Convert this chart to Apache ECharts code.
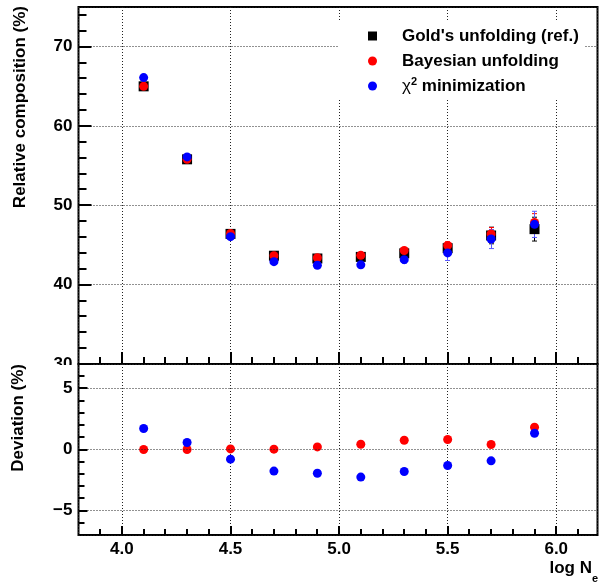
<!DOCTYPE html>
<html>
<head>
<meta charset="utf-8">
<script src="https://cdn.jsdelivr.net/npm/echarts@6/dist/echarts.min.js"></script>
<style>
  html, body { margin: 0; padding: 0; background: #fff; }
  #chart { width: 599px; height: 583px; }
</style>
</head>
<body>
<div id="chart"></div>
<script>
// Bin centres in log10(Ne)
const logNe = [4.1, 4.3, 4.5, 4.7, 4.9, 5.1, 5.3, 5.5, 5.7, 5.9];

// Relative composition (%) for each unfolding method
const goldValues  = [65.0, 55.8, 46.4, 43.65, 43.3, 43.5, 43.95, 44.6, 46.2, 47.0];
const goldErrors  = [0.2, 0.2, 0.2, 0.2, 0.25, 0.3, 0.35, 0.45, 1.05, 1.5];
const bayesValues = [65.0, 55.8, 46.45, 43.65, 43.4, 43.7, 44.3, 44.95, 46.4, 47.85];
const bayesErrors = [0.2, 0.2, 0.2, 0.2, 0.25, 0.3, 0.35, 0.45, 0.8, 1.1];
const chi2Values  = [66.1, 56.1, 46.05, 42.9, 42.45, 42.5, 43.15, 44.0, 45.75, 47.6];
const chi2Errors  = [0.2, 0.2, 0.2, 0.25, 0.3, 0.35, 0.45, 0.95, 1.2, 1.65];

// Deviation from Gold's unfolding (%)
const bayesDeviation = [0.0, 0.0, 0.05, 0.03, 0.21, 0.43, 0.76, 0.82, 0.41, 1.82];
const chi2Deviation  = [1.72, 0.57, -0.79, -1.77, -1.94, -2.26, -1.8, -1.31, -0.93, 1.33];

// Axis tick positions
const xMajorTicks = [4.0, 4.5, 5.0, 5.5, 6.0];
const xMinorTicks = [3.9, 4.1, 4.2, 4.3, 4.4, 4.6, 4.7, 4.8, 4.9, 5.1, 5.2, 5.3, 5.4, 5.6, 5.7, 5.8, 5.9, 6.1];
const compMajorTicks = [30, 40, 50, 60, 70];
const compMinorTicks = [32, 34, 36, 38, 42, 44, 46, 48, 52, 54, 56, 58, 62, 64, 66, 68, 72, 74];
const devMajorTicks = [-5, 0, 5];
const devMinorTicks = [-6, -4, -3, -2, -1, 1, 2, 3, 4, 6];

const seriesNames = ["Gold's unfolding (ref.)", 'Bayesian unfolding', 'chi2 minimization'];

const FONT = 'Liberation Sans';
const BLACK = '#000000';
const TICK = '#000000';
const RED = '#ff0000';
const BLUE = '#0000ff';
const BLUE_ERR = '#5a5aff';

const X_MIN = 3.8, X_MAX = 6.19;
const COMP_MIN = 30, COMP_MAX = 75;
const DEV_MIN = -7, DEV_MAX = 7;

function points(values, errors) {
  return logNe.map((x, i) => [x, values[i], errors ? errors[i] : 0]);
}

const crisp = v => Math.round(v - 0.5) + 0.5;

function errorBars(values, errors, color) {
  return {
    type: 'custom', xAxisIndex: 0, yAxisIndex: 0, silent: true,
    data: points(values, errors),
    encode: { x: 0, y: 1 },
    renderItem(params, api) {
      const x = api.value(0), y = api.value(1), e = api.value(2);
      const hi = api.coord([x, y + e]);
      const lo = api.coord([x, y - e]);
      const cx = crisp(hi[0]);
      const cap = 2.5;
      const st = { stroke: color, lineWidth: 1 };
      return {
        type: 'group',
        children: [
          { type: 'line', shape: { x1: cx, y1: hi[1], x2: cx, y2: lo[1] }, style: st },
          { type: 'line', shape: { x1: cx - cap, y1: hi[1], x2: cx + cap, y2: hi[1] }, style: st },
          { type: 'line', shape: { x1: cx - cap, y1: lo[1], x2: cx + cap, y2: lo[1] }, style: st }
        ]
      };
    }
  };
}

// Tick marks (major and minor) drawn inward from the bottom edge of a panel
function xTicks(axisIndex, majors, minors, yEdge, majorLen, minorLen) {
  return {
    type: 'custom', xAxisIndex: axisIndex, yAxisIndex: axisIndex, silent: true, z: 6,
    data: majors.concat(minors).map(v => [v, yEdge]),
    encode: { x: 0, y: 1 },
    renderItem(params, api) {
      const v = api.value(0);
      const len = majors.indexOf(v) >= 0 ? majorLen : minorLen;
      const p = api.coord([v, api.value(1)]);
      const x = Math.round(p[0]);
      return {
        type: 'rect',
        shape: { x: x - 1, y: p[1] - len, width: 2, height: len },
        style: { fill: TICK }
      };
    }
  };
}

// Tick marks (major and minor) drawn inward from the left edge of a panel
function yTicks(axisIndex, majors, minors, majorLen, minorLen) {
  return {
    type: 'custom', xAxisIndex: axisIndex, yAxisIndex: axisIndex, silent: true, z: 6,
    data: majors.concat(minors).map(v => [X_MIN, v]),
    encode: { x: 0, y: 1 },
    renderItem(params, api) {
      const v = api.value(1);
      const len = majors.indexOf(v) >= 0 ? majorLen : minorLen;
      const p = api.coord([api.value(0), v]);
      const y = Math.round(p[1]);
      return {
        type: 'rect',
        shape: { x: p[0], y: y - 1, width: len, height: 2 },
        style: { fill: TICK }
      };
    }
  };
}

const minus = v => String(v).replace('-', '\u2212');

const gridLine = { show: true, lineStyle: { color: '#222', width: 1, type: [1, 2] } };
const labelFont = { color: BLACK, fontFamily: FONT, fontWeight: 'bold', fontSize: 17 };

function xAxisFor(gridIndex, showLabels) {
  return {
    type: 'value', gridIndex, min: X_MIN, max: X_MAX, splitNumber: 5,
    axisLine: { show: false, onZero: false },
    axisTick: { show: false },
    splitLine: gridLine,
    axisLabel: Object.assign({
      show: showLabels, margin: 6, showMinLabel: false, showMaxLabel: false,
      formatter: v => v.toFixed(1)
    }, labelFont)
  };
}

const chart = echarts.init(document.getElementById('chart'), null, { renderer: 'canvas' });

const legendText = { fontFamily: FONT, fontSize: 17, fontWeight: 'bold', color: BLACK, lineHeight: 20 };

chart.setOption({
  backgroundColor: '#ffffff',
  animation: false,
  grid: [
    { left: 78.5, width: 519, top: 7, height: 357, show: true, borderColor: BLACK, borderWidth: 2 },
    { left: 78.5, width: 519, top: 364, height: 171, show: true, borderColor: BLACK, borderWidth: 2 }
  ],
  xAxis: [xAxisFor(0, false), xAxisFor(1, true)],
  yAxis: [
    {
      type: 'value', gridIndex: 0, min: COMP_MIN, max: COMP_MAX, splitNumber: 4, z: 0,
      axisLine: { show: false, onZero: false },
      axisTick: { show: false },
      splitLine: gridLine,
      axisLabel: Object.assign({ margin: 6, showMaxLabel: false, formatter: minus }, labelFont)
    },
    {
      type: 'value', gridIndex: 1, min: DEV_MIN, max: DEV_MAX, splitNumber: 3, z: 3,
      axisLine: { show: false, onZero: false },
      axisTick: { show: false },
      splitLine: gridLine,
      axisLabel: Object.assign({ margin: 6, showMinLabel: false, showMaxLabel: false, formatter: minus }, labelFont)
    }
  ],
  legend: {
    orient: 'vertical',
    left: 338, top: 21,
    padding: [5, 6, 3, 30],
    backgroundColor: '#ffffff',
    itemWidth: 9, itemHeight: 9,
    itemGap: 5,
    selectedMode: false,
    data: [
      { name: seriesNames[0], icon: 'rect' },
      { name: seriesNames[1], icon: 'circle' },
      { name: seriesNames[2], icon: 'circle' }
    ],
    formatter: name => name === seriesNames[2]
      ? '{chi|\u03c7}{sup|2}{b| minimization}'
      : '{first|' + name + '}',
    textStyle: Object.assign({
      rich: {
        first: Object.assign({ padding: [0, 0, 0, 20] }, legendText),
        chi: Object.assign({}, legendText, { fontWeight: 'normal', padding: [0, 0, 0, 20] }),
        sup: Object.assign({}, legendText, { fontSize: 11, padding: [0, 0, 8, 0] }),
        b: legendText
      }
    }, legendText)
  },
  graphic: [
    // covers the lower part of the clipped "30" label, like the overlapping lower pad
    { type: 'rect', z: 1, shape: { x: 0, y: 365, width: 77, height: 18 }, style: { fill: '#ffffff' } },
    {
      type: 'text', x: 20, y: 6, rotation: Math.PI / 2, z: 5,
      style: { text: 'Relative composition (%)', fontFamily: FONT, fontWeight: 'bold', fontSize: 17, fill: BLACK, align: 'right', verticalAlign: 'middle' }
    },
    {
      type: 'text', x: 18, y: 364, rotation: Math.PI / 2, z: 5,
      style: { text: 'Deviation (%)', fontFamily: FONT, fontWeight: 'bold', fontSize: 17, fill: BLACK, align: 'right', verticalAlign: 'middle' }
    },
    {
      type: 'text', x: 592, y: 568, z: 5,
      style: { text: 'log N', fontFamily: FONT, fontWeight: 'bold', fontSize: 17, fill: BLACK, align: 'right', verticalAlign: 'middle' }
    },
    {
      type: 'text', x: 592, y: 579, z: 5,
      style: { text: 'e', fontFamily: FONT, fontWeight: 'bold', fontSize: 11, fill: BLACK, align: 'left', verticalAlign: 'middle' }
    }
  ],
  series: [
    xTicks(0, xMajorTicks, xMinorTicks, COMP_MIN, 12, 7),
    yTicks(0, compMajorTicks, compMinorTicks, 13, 8),
    xTicks(1, xMajorTicks, xMinorTicks, DEV_MIN, 9, 6),
    yTicks(1, devMajorTicks, devMinorTicks, 9, 6),
    errorBars(goldValues, goldErrors, BLACK),
    {
      name: seriesNames[0], type: 'scatter', xAxisIndex: 0, yAxisIndex: 0,
      symbol: 'rect', symbolSize: 10, itemStyle: { color: BLACK, opacity: 1 },
      data: points(goldValues)
    },
    errorBars(bayesValues, bayesErrors, RED),
    {
      name: seriesNames[1], type: 'scatter', xAxisIndex: 0, yAxisIndex: 0,
      symbol: 'circle', symbolSize: 9, itemStyle: { color: RED, opacity: 1 },
      data: points(bayesValues)
    },
    errorBars(chi2Values, chi2Errors, BLUE_ERR),
    {
      name: seriesNames[2], type: 'scatter', xAxisIndex: 0, yAxisIndex: 0,
      symbol: 'circle', symbolSize: 9, itemStyle: { color: BLUE, opacity: 1 },
      data: points(chi2Values)
    },
    {
      name: seriesNames[1], type: 'scatter', xAxisIndex: 1, yAxisIndex: 1,
      symbol: 'circle', symbolSize: 9, itemStyle: { color: RED, opacity: 1 },
      data: points(bayesDeviation)
    },
    {
      name: seriesNames[2], type: 'scatter', xAxisIndex: 1, yAxisIndex: 1,
      symbol: 'circle', symbolSize: 9, itemStyle: { color: BLUE, opacity: 1 },
      data: points(chi2Deviation)
    }
  ]
});
</script>
</body>
</html>
